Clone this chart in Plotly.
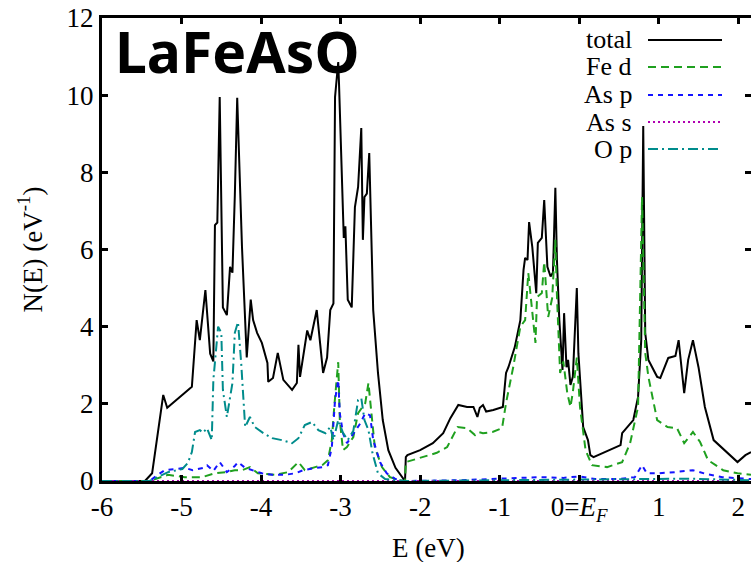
import plotly.graph_objects as go

# Density of states of LaFeAsO: total and projected contributions
e_total = [-6.0, -5.46, -5.37, -5.23, -5.18, -4.87, -4.81, -4.77, -4.70, -4.64, -4.60, -4.58, -4.55,
           -4.52, -4.48, -4.43, -4.39, -4.36, -4.33, -4.30, -4.24, -4.18, -4.13, -4.10, -4.05, -3.99,
           -3.92, -3.91, -3.85, -3.79, -3.72, -3.61, -3.55, -3.53, -3.51, -3.42, -3.38, -3.30, -3.22,
           -3.17, -3.13, -3.09, -3.07, -3.03, -3.02, -2.98, -2.96, -2.94, -2.91, -2.86, -2.82, -2.78,
           -2.74, -2.72, -2.70, -2.67, -2.64, -2.59, -2.53, -2.47, -2.40, -2.31, -2.21, -2.19, -2.18,
           -2.16, -2.00, -1.84, -1.71, -1.62, -1.52, -1.41, -1.33, -1.28, -1.25, -1.21, -1.17, -1.08,
           -0.96, -0.92, -0.89, -0.81, -0.74, -0.70, -0.68, -0.65, -0.63, -0.59, -0.54, -0.52, -0.47,
           -0.44, -0.40, -0.36, -0.33, -0.30, -0.28, -0.25, -0.21, -0.19, -0.16, -0.14, -0.11, -0.08,
           -0.03, -0.01, 0.05, 0.11, 0.14, 0.18, 0.52, 0.54, 0.68, 0.74, 0.78, 0.805, 0.83, 0.87,
           0.98, 1.02, 1.12, 1.21, 1.25, 1.32, 1.37, 1.43, 1.50, 1.58, 1.69, 1.86, 1.99, 2.09, 2.16]
n_total = [0.0, 0.0, 0.2, 2.23, 1.9, 2.44, 4.17, 3.65, 4.95, 3.3, 3.1, 6.63, 6.7,
           9.95, 4.5, 4.3, 5.55, 5.4, 7.4, 9.93, 6.07, 3.2, 4.7, 4.17, 3.84, 3.58,
           3.06, 2.57, 2.67, 3.32, 2.62, 2.36, 2.54, 3.53, 2.7, 3.9, 3.65, 4.43, 2.8,
           3.2, 4.43, 4.6, 9.95, 10.86, 10.3, 7.46, 6.3, 6.6, 4.7, 4.5, 7.1, 7.62,
           9.15, 6.25, 7.36, 7.45, 8.5, 4.43, 2.8, 1.58, 0.8, 0.34, 0.03, 0.0, 0.62,
           0.67, 0.8, 0.98, 1.24, 1.63, 1.97, 1.92, 1.92, 1.66, 1.9, 1.97, 1.8, 1.84,
           1.92, 2.8, 2.95, 3.47, 4.17, 5.47, 5.78, 5.73, 6.71, 6.07, 4.87, 6.17, 6.3,
           7.28, 5.55, 5.3, 5.4, 7.6, 5.73, 4.17, 2.88, 4.35, 2.95, 3.14, 2.49, 2.7,
           5.0, 3.3, 1.4, 1.06, 0.67, 0.62, 0.93, 1.24, 1.58, 2.18, 3.65, 9.2, 3.84, 3.14,
           2.7, 2.67, 3.19, 3.24, 3.65, 2.28, 3.14, 3.65, 2.95, 1.92, 1.06, 0.75, 0.49, 0.67, 0.75]

e_fed = [-6.0, -5.40, -5.33, -5.17, -4.96, -4.74, -4.58, -4.45, -4.33, -4.24, -4.14, -4.04, -3.82,
         -3.66, -3.53, -3.45, -3.32, -3.23, -3.16, -3.11, -3.08, -3.03, -3.01, -2.97, -2.92, -2.84,
         -2.78, -2.69, -2.65, -2.62, -2.57, -2.48, -2.38, -2.28, -2.21, -2.19, -2.18, -2.00, -1.79,
         -1.66, -1.53, -1.41, -1.31, -1.27, -1.21, -1.09, -0.97, -0.92, -0.83, -0.74, -0.68, -0.64,
         -0.59, -0.55, -0.53, -0.47, -0.44, -0.39, -0.34, -0.30, -0.28, -0.24, -0.20, -0.15, -0.11,
         -0.08, -0.03, 0.01, 0.08, 0.16, 0.35, 0.54, 0.64, 0.74, 0.79, 0.83, 0.87, 0.98, 1.11,
         1.23, 1.32, 1.43, 1.52, 1.62, 1.81, 1.99, 2.16]
n_fed = [0.0, 0.0, 0.05, 0.16, 0.1, 0.1, 0.2, 0.23, 0.28, 0.28, 0.36, 0.2, 0.16,
         0.23, 0.49, 0.28, 0.36, 0.41, 0.54, 1.06, 1.92, 3.08, 1.58, 0.8, 0.88, 1.14,
         1.76, 2.02, 2.54, 1.84, 0.88, 0.36, 0.1, 0.03, 0.0, 0.0, 0.49, 0.6, 0.73,
         0.88, 1.4, 1.37, 1.19, 1.27, 1.24, 1.27, 1.37, 2.02, 2.95, 4.0, 4.17, 5.39,
         4.38, 3.58, 4.77, 4.87, 5.68, 4.25, 4.74, 6.25, 4.8, 2.8, 3.1, 2.28, 1.92,
         2.3, 3.2, 1.92, 0.8, 0.41, 0.36, 0.49, 0.98, 1.92, 7.36, 3.32, 2.7, 1.58, 1.4,
         1.37, 0.98, 1.27, 1.01, 0.54, 0.28, 0.2, 0.16]

e_asp = [-6.0, -5.40, -5.30, -5.21, -5.08, -4.96, -4.86, -4.73, -4.68, -4.60, -4.52, -4.43, -4.33,
         -4.29, -4.20, -4.11, -3.99, -3.86, -3.70, -3.57, -3.47, -3.32, -3.22, -3.16, -3.11, -3.07,
         -3.03, -3.01, -2.97, -2.92, -2.84, -2.75, -2.69, -2.63, -2.59, -2.50, -2.42, -2.31, -2.21,
         -2.18, -1.5, -1.1, -0.8, -0.5, -0.2, 0.0, 0.2, 0.5, 0.7, 0.79, 0.85, 1.0, 1.2, 1.43,
         1.6, 1.8, 2.16]
n_asp = [0.0, 0.0, 0.16, 0.28, 0.31, 0.34, 0.28, 0.34, 0.41, 0.26, 0.49, 0.23, 0.39,
         0.49, 0.34, 0.28, 0.2, 0.16, 0.16, 0.2, 0.28, 0.34, 0.36, 0.41, 0.88, 2.1,
         2.62, 1.75, 1.24, 0.98, 1.24, 1.5, 1.76, 1.7, 1.06, 0.47, 0.2, 0.05, 0.0,
         0.0, 0.02, 0.05, 0.06, 0.1, 0.08, 0.12, 0.05, 0.05, 0.1, 0.41, 0.2, 0.2, 0.23, 0.28,
         0.18, 0.1, 0.05]

e_ass = [-6.0, -5.40, -5.2, -4.8, -4.4, -4.0, -3.6, -3.2, -2.9, -2.6, -2.3, -2.21, -2.18,
         -1.0, 0.0, 0.8, 1.4, 2.16]
n_ass = [0.0, 0.0, 0.01, 0.01, 0.01, 0.01, 0.01, 0.01, 0.01, 0.01, 0.0, 0.0, 0.0,
         0.0, 0.01, 0.01, 0.01, 0.0]

e_op = [-6.0, -5.40, -5.37, -5.17, -4.99, -4.92, -4.87, -4.83, -4.77, -4.73, -4.68, -4.62, -4.60,
        -4.54, -4.50, -4.48, -4.43, -4.36, -4.33, -4.29, -4.25, -4.20, -4.14, -4.08, -3.97, -3.86,
        -3.74, -3.61, -3.53, -3.45, -3.36, -3.28, -3.19, -3.13, -3.09, -3.03, -2.97, -2.91, -2.84,
        -2.78, -2.74, -2.70, -2.65, -2.60, -2.53, -2.44, -2.21, -2.18, -1.0, 0.0, 0.8, 1.4, 2.16]
n_op = [0.0, 0.0, 0.03, 0.23, 0.31, 0.47, 0.75, 1.27, 1.32, 1.25, 1.37, 1.06, 2.62,
        4.0, 3.84, 2.36, 1.66, 2.54, 3.84, 4.12, 3.06, 1.4, 1.66, 1.4, 1.24, 1.11,
        1.06, 0.98, 1.11, 1.45, 1.53, 1.32, 1.24, 1.4, 1.06, 1.58, 1.25, 1.06, 1.3,
        2.1, 2.15, 1.58, 1.32, 0.73, 0.2, 0.05, 0.0, 0.0, 0.02, 0.03, 0.04, 0.06, 0.02]

x_tickvals = [-6, -5, -4, -3, -2, -1, 0, 1, 2]
x_ticktext = ["-6", "-5", "-4", "-3", "-2", "-1", "0=<i>E<sub>F</sub></i>", "1", "2"]
y_tickvals = [0, 2, 4, 6, 8, 10, 12]

series = [
    ("total", e_total, n_total, "#000000", "solid"),
    ("Fe d", e_fed, n_fed, "#1fa01f", "8px,5px"),
    ("As p", e_asp, n_asp, "#1414ff", "5px,5px"),
    ("As s", e_ass, n_ass, "#b000b0", "2px,3px"),
    ("O p", e_op, n_op, "#008c8c", "10px,4px,2px,4px"),
]

serif = "Liberation Serif, Times New Roman, serif"
fig = go.Figure()
for name, xs, ys, color, dash in series:
    fig.add_trace(go.Scatter(x=xs, y=ys, mode="lines", name=name,
                             line=dict(color=color, width=2, dash=dash),
                             showlegend=False))

# second y axis only carries the inward ticks on the right-hand side
fig.add_trace(go.Scatter(x=[None], y=[None], yaxis="y2", showlegend=False))

L, R, T, B = 102, 0, 18, 81
W, H = 751, 562
pw, ph = W - L - R, H - T - B

def px_x(px):
    return (px - L) / pw

def px_y(py):
    return (H - B - py) / ph

annotations = [
    dict(text="<b>LaFeAsO</b>", x=px_x(113), y=px_y(10), xref="paper", yref="paper",
         xanchor="left", yanchor="top", showarrow=False,
         font=dict(family="Noto Sans", size=57, color="black")),
    dict(text="N(E) (eV<sup>-1</sup>)", x=px_x(30), y=0.5, xref="paper", yref="paper",
         xanchor="center", yanchor="middle", textangle=-90, showarrow=False,
         font=dict(family=serif, size=27, color="black")),
    dict(text="E (eV)", x=px_x(428), y=px_y(548), xref="paper", yref="paper",
         xanchor="center", yanchor="middle", showarrow=False,
         font=dict(family=serif, size=27, color="black")),
]
shapes = []
row_y = [40, 67, 95, 122, 149]
for (name, _, _, color, dash), ry in zip(series, row_y):
    annotations.append(dict(text=name, x=px_x(634), y=px_y(ry), xref="paper", yref="paper",
                            xanchor="right", yanchor="middle", showarrow=False,
                            font=dict(family=serif, size=26, color="black")))
    shapes.append(dict(type="line", xref="paper", yref="paper",
                       x0=px_x(648), x1=px_x(722), y0=px_y(ry), y1=px_y(ry),
                       line=dict(color=color, width=2, dash=dash)))

fig.update_layout(
    width=W, height=H,
    margin=dict(l=L, r=R, t=T, b=B),
    paper_bgcolor="white", plot_bgcolor="white",
    font=dict(family=serif, size=27, color="black"),
    xaxis=dict(range=[-6, 2.16], tickvals=x_tickvals, ticktext=x_ticktext,
               ticks="inside", ticklen=6, tickwidth=3, tickcolor="black",
               showline=True, linewidth=3, linecolor="black", mirror="ticks",
               showgrid=False, zeroline=False, tickfont=dict(family=serif, size=27)),
    yaxis=dict(range=[0, 12], tickvals=y_tickvals,
               ticks="inside", ticklen=6, tickwidth=3, tickcolor="black",
               showline=True, linewidth=3, linecolor="black",
               showgrid=False, zeroline=False, tickfont=dict(family=serif, size=27)),
    yaxis2=dict(range=[0, 12], tickvals=y_tickvals, overlaying="y", side="right",
                ticks="inside", ticklen=6, tickwidth=3, tickcolor="black",
                showline=False, showgrid=False, zeroline=False, showticklabels=False),
    annotations=annotations,
    shapes=shapes,
)

fig.write_html("out.html")
